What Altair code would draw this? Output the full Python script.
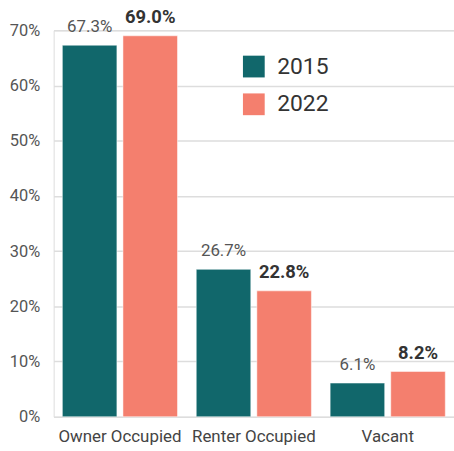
import altair as alt
import pandas as pd

categories = ["Owner Occupied", "Renter Occupied", "Vacant"]
years = ["2015", "2022"]
values_2015 = [67.3, 26.7, 6.1]
values_2022 = [69.0, 22.8, 8.2]

rows = []
for c, v in zip(categories, values_2015):
    rows.append({"cat": c, "year": "2015", "value": v, "label": f"{v:.1f}%"})
for c, v in zip(categories, values_2022):
    rows.append({"cat": c, "year": "2022", "value": v, "label": f"{v:.1f}%"})
df = pd.DataFrame(rows)

FONT = "Roboto"
colors = ["#11676b", "#f47f6e"]

x = alt.X("cat:N", sort=categories, title=None,
          scale=alt.Scale(paddingInner=0.14, paddingOuter=0.065),
          axis=alt.Axis(labelAngle=0, labelFontSize=17, labelColor="#444", labelFont=FONT,
                        domain=False, ticks=False, labelPadding=12))
xo = alt.XOffset("year:N", sort=years, scale=alt.Scale(paddingInner=0.1, paddingOuter=0))
y = alt.Y("value:Q", title=None,
          scale=alt.Scale(domain=[0, 70], nice=False),
          axis=alt.Axis(values=[0, 10, 20, 30, 40, 50, 60, 70], labelExpr="datum.value + '%'",
                        labelFontSize=16.5, labelColor="#555", labelFont=FONT, domain=False,
                        ticks=False, labelPadding=14, gridColor="#dddddd", gridWidth=1.5))

base = alt.Chart(df)

bars = base.mark_bar(stroke="white", strokeWidth=0.5).encode(
    x=x, xOffset=xo, y=y,
    color=alt.Color("year:N", sort=years, scale=alt.Scale(domain=years, range=colors),
                    legend=alt.Legend(title=None, orient="none", legendX=190, legendY=25,
                                      symbolType="square", symbolSize=480, symbolStrokeWidth=0,
                                      labelFontSize=23, labelFont=FONT, labelColor="#333",
                                      rowPadding=14, labelOffset=12, symbolOpacity=1)),
)

text15 = base.transform_filter("datum.year == '2015'").mark_text(
    dy=-13, baseline="alphabetic", fontSize=17, font=FONT, color="#555", fontWeight="normal"
).encode(x=x, xOffset=xo, y=y, text="label:N")

text22 = base.transform_filter("datum.year == '2022'").mark_text(
    dy=-13, baseline="alphabetic", fontSize=18.5, font=FONT, color="#333", fontWeight="bold"
).encode(x=x, xOffset=xo, y=y, text="label:N")

chart = alt.layer(bars, text15, text22).properties(
    width=403, height=389,
    padding={"left": 54, "top": 29, "right": 0, "bottom": 33},
    autosize=alt.AutoSizeParams(type="none"),
).configure_view(stroke=None).configure(font=FONT)

chart.save("out.html", embed_options={"renderer": "svg", "actions": False})
